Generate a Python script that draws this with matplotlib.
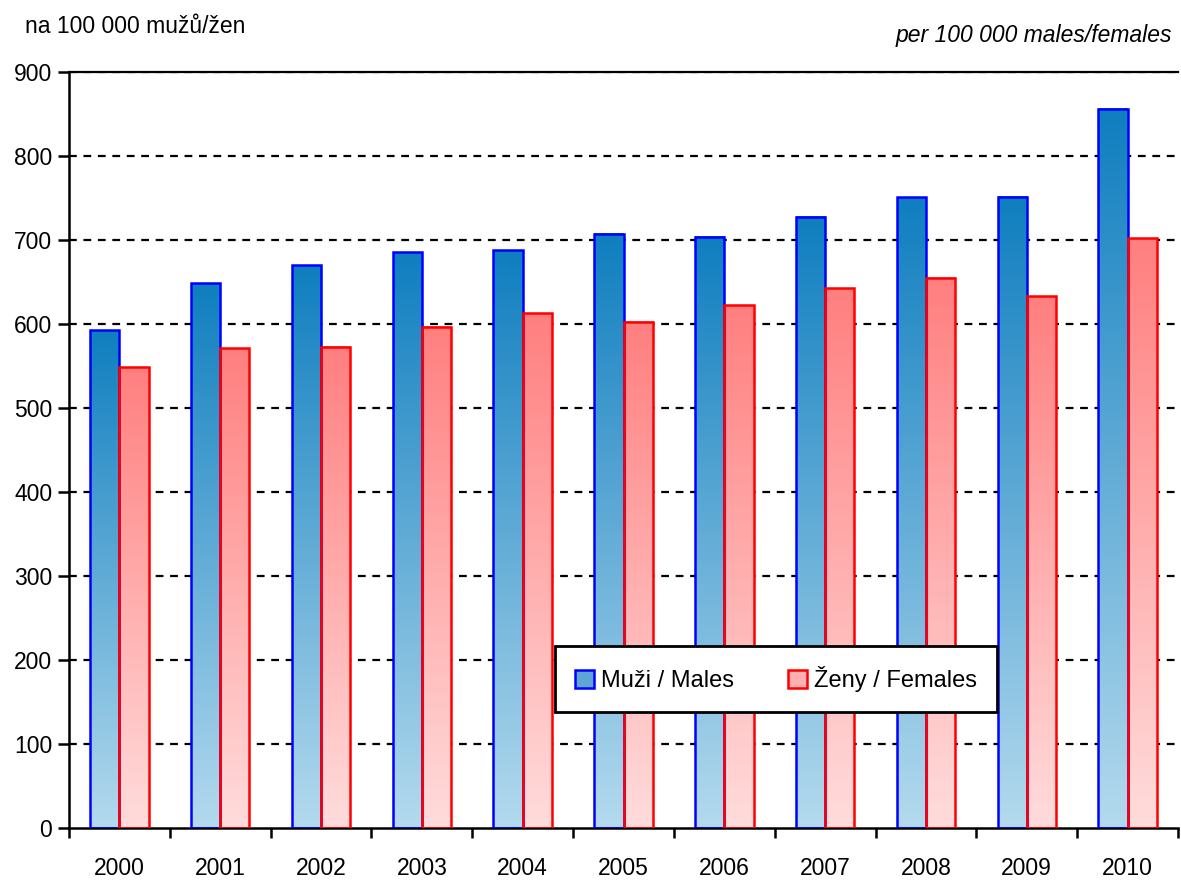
import numpy as np
import matplotlib
matplotlib.use("Agg")
import matplotlib.pyplot as plt
from matplotlib.patches import Rectangle, Patch
from matplotlib.colors import LinearSegmentedColormap

plt.rcParams["font.family"] = ["Liberation Sans", "DejaVu Sans"]

years = ["2000", "2001", "2002", "2003", "2004", "2005", "2006", "2007", "2008", "2009", "2010"]
males = [592.5, 648.4, 670.2, 685.4, 687.7, 707.5, 704.0, 727.4, 750.8, 751.6, 856.0]
females = [548.4, 571.0, 573.0, 597.0, 613.0, 602.8, 622.6, 642.5, 655.2, 633.3, 702.0]
yticks = [0, 100, 200, 300, 400, 500, 600, 700, 800, 900]

blue_cmap = LinearSegmentedColormap.from_list("b", ["#b4daee", "#0f7ebf"])
red_cmap = LinearSegmentedColormap.from_list("r", ["#ffdcdc", "#ff7f7f"])
grad = np.linspace(0, 1, 256).reshape(-1, 1)

fig = plt.figure(figsize=(11.81, 8.83), dpi=100)
ax = fig.add_axes([69 / 1181, 55 / 883, 1109 / 1181, 756 / 883])

width = 0.29


def gradient_bar(x0, h, cmap, edge):
    ax.imshow(grad, extent=[x0, x0 + width, 0, h], origin="lower", cmap=cmap,
              aspect="auto", zorder=2, interpolation="bilinear")
    ax.add_patch(Rectangle((x0, 0), width, h, fill=False, edgecolor=edge,
                           linewidth=1.8, zorder=3))


for i in range(len(years)):
    gradient_bar(i - width, males[i], blue_cmap, "#0000ff")
    gradient_bar(i, females[i], red_cmap, "#ff0000")

ax.set_xlim(-0.5, len(years) - 0.5)
ax.set_ylim(0, 900)

# dashed grid behind the bars
for v in yticks[1:]:
    ax.axhline(v, color="black", linewidth=1.6, linestyle=(0, (3.5, 3)), zorder=1)

ax.spines["right"].set_visible(False)
ax.spines["top"].set_linewidth(1.6)
ax.spines["left"].set_linewidth(1.8)
ax.spines["bottom"].set_linewidth(1.8)

ax.set_yticks(yticks)
ax.set_yticklabels([str(v) for v in yticks], fontsize=16.5)
ax.tick_params(axis="y", direction="out", length=8, width=1.8, pad=4)

ax.set_xticks(np.arange(-0.5, len(years), 1.0))
ax.set_xticklabels([])
ax.tick_params(axis="x", which="major", direction="out", length=7, width=1.8)
ax.set_xticks(np.arange(len(years)), minor=True)
ax.set_xticklabels(years, minor=True, fontsize=16.5)
ax.tick_params(axis="x", which="minor", length=0, pad=21)

fig.text(25 / 1181, 1 - 33 / 883, "na 100 000 mužů/žen", fontsize=16.5, ha="left", va="baseline")
fig.text(1172 / 1181, 1 - 42 / 883, "per 100 000 males/females", fontsize=16.5,
         ha="right", va="baseline", style="italic")

handles = [Patch(facecolor="#5da6d4", edgecolor="#0000ff", linewidth=1.8, label="Muži / Males"),
           Patch(facecolor="#ffb0b0", edgecolor="#ff0000", linewidth=1.8, label="Ženy / Females")]
leg = ax.legend(handles=handles, loc="center", bbox_to_anchor=((776 - 69) / 1109, (828 - 679) / 756),
                ncol=2, fontsize=17, frameon=True, fancybox=False, framealpha=1, borderpad=0.85,
                handlelength=0.8, handleheight=0.8, handletextpad=0.3, columnspacing=2.3)
leg.get_frame().set_edgecolor("black")
leg.get_frame().set_linewidth(2)
leg.set_zorder(5)

fig.savefig("out.png", dpi=100)
